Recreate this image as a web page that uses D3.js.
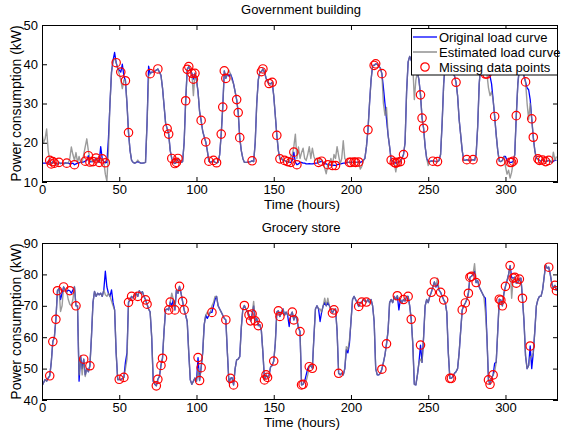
<!DOCTYPE html>
<html>
<head>
<meta charset="utf-8">
<script src="https://cdn.jsdelivr.net/npm/d3@7"></script>
<style>
  body { margin: 0; background: #fff; }
  svg text { font-family: "Liberation Sans", Arial, Helvetica, sans-serif; fill: #000; }
</style>
</head>
<body>
<svg id="fig" width="561" height="434"></svg>
<script>
// Hourly load (kW), hours 0..333
const govOriginal = [
  14.8,14.8,14.8,14.8,14.8,15.5,14.6,15.2,14.8,14.8,
  14.5,15,14.7,14.8,14.6,14.9,14.8,14.8,14.6,14.7,
  14.8,14.4,14.6,14.8,14.9,15,15,15.1,15.3,15.5,
  16.7,15.1,15.2,15.2,15.5,16.1,15.3,15,19,15.9,
  15.2,14.9,15,21,30,38,41,43,40.4,39,
  38.5,38,40,37,35.8,30,22.6,18,15.5,15,
  14.8,15,15.2,15,14.8,14.8,14.9,15,25,39.5,
  37.6,38,38,38.2,38.5,38.8,38,37.2,34,29.5,
  25,23.6,22.2,18,16,15,14.7,15,16,15.5,
  15,15.2,20,30.7,38.7,39.4,38.5,37.7,36.2,37.7,
  36,33,28,25.7,23,21.5,20.2,18,15.3,15,
  15.2,15.5,15,14.9,15,17,22.2,29.1,38.3,36.4,
  37.5,37,37.5,36.5,35,33,31,27.7,21.3,18,
  16,15,15,15,15.1,15.2,15.4,15.2,20,30,
  36,38,38.1,38.8,38,36.5,35.5,35.1,35,35.4,
  32,27,21.9,18,15.9,16,15.5,15.5,15.2,15.2,
  15,15,15.5,17.6,15,14.4,14.6,15,15,14.8,
  14.8,14.6,14.6,14.7,14.6,14.6,14.7,14.8,14.8,15,
  15.1,15.3,15,14.7,14.6,14.4,14.4,14.3,14.2,14.3,
  14.2,14.4,14.5,14.6,14.7,14.8,14.8,14.9,15,15,
  15,15,15.1,15,15,15.1,15,15.2,15.5,16,
  19,23.3,30,36,39.7,39.7,40.1,40,39.5,39,
  37.6,34,30,26,22,19,15.6,15.2,15,14.8,
  15,15.2,15.2,16,17,20,33,40.6,42,41,
  40,40,39,38,36,32.2,26.3,23.7,19,16,
  15.2,15.2,15.4,15.3,15.3,15.2,15.2,15.5,17,25,
  35,40,41,40,40,39,38,37,35.4,32,
  26,22,18,15.5,15.5,15.7,15.5,15.5,15.6,15.7,
  15.5,17,24,35,40,41,40,37.5,37.5,37.5,
  37,35,31,26.7,22,18,15.3,15.2,15.5,16.5,
  16.5,15.5,15.2,15,15,15.3,17,26.9,35,39,
  40,39,37,35.5,34,33.5,31,26.1,21.4,18,
  16,15.9,15.5,15.3,15.6,15.4,15.2,15.3,15.5,15.3,
  15,15.3,15.5,15.5
];
// [hour, kW] where the estimated curve departs from the original one
const govEstimatedEdits = [
  [0,22.3],[1,20],[2,21],[3,23.5],[4,18],[18,16],[19,18.9],[20,17],[21,15.5],[22,17.5],
  [23,15],[24,16.5],[27,17],[28,19],[29,21],[30,18],[31,16],[38,15.5],[41,12],[42,10.2],
  [43,18],[47,41.4],[50,37.5],[51,36],[52,33.8],[53,36],[62,15.6],[69,37],[98,32],[121,38.5],
  [123,36],[161,16.5],[162,17],[163,19],[164,22.2],[165,16],[166,18.9],[167,16],[168,17.5],
  [169,18.6],[170,16],[171,15.5],[172,17],[173,19],[174,16],[175,18.6],[176,16.5],[177,15.5],
  [178,16],[180,16],[181,15.5],[182,14.5],[183,13.5],[184,12.1],[185,14.5],[187,16],[189,17],
  [190,16],[191,19],[192,16.7],[194,16],[195,20.5],[196,16],[197,15.5],[206,13.3],[207,14],
  [221,30],[222,27],[223,29],[229,12.6],[241,31],[242,36],[250,14.2],[289,34],[290,32],
  [291,33],[300,14],[301,12],[302,13],[303,11],[304,12.5],[305,15],[314,30],[315,26],
  [316,30],[331,17.6],[333,16.5]
];
const govMissing = [
  5,6,7,8,11,16,21,28,30,31,33,35,37,39,41,48,51,54,56,70,75,81,82,84,86,87,88,93,94,95,
  97,98,99,103,106,108,111,113,116,117,118,119,126,127,128,136,142,143,147,149,152,154,157,
  159,161,163,165,179,181,185,188,190,199,200,202,203,205,211,215,216,220,226,228,229,230,
  232,234,245,246,247,253,256,268,275,279,287,288,293,297,303,304,305,307,313,317,318,321,
  322,324,326,328
];

const groOriginal = [
  44.5,45.5,46.5,46,47,47.7,52,58.6,60,65.7,
  74.8,75.5,72,74,76,75,74.5,75,74.8,74,
  75,76,70,70,46,54,50,53,48,50,
  49,50.9,60,71,74.6,73,74,73.5,74,73,
  75,81,76,74,73,75.1,71,68.7,55,46.5,
  46.6,46.5,46.8,47.2,52,55,71.1,72,73,72.5,
  73.5,74,73,74.8,74,74.5,73,71.9,70.5,69,
  68,60,46,45,44.5,46.6,47.5,51,53.3,62,
  68.7,69,68.7,71.2,70,72,68.7,75,74,76.2,
  74,71.4,68.7,67,65,55,46.4,45,46,47,
  46,53.5,46.2,50.3,55,64,67,66,67,68,
  67.9,70,72,73,70,69,68,67,66,65.5,
  55,45.5,46.9,47.1,44.8,50,52.8,53,53.8,63,
  69,70.1,69,68,67.1,65.2,67.4,70,65.2,66,
  63.7,64,62,55,46.4,48,47.2,48,50.6,51,
  52.4,58,68,68.4,66.6,68,69,67,68,67,
  63.4,67,68,65.5,67,65.7,63,61.8,44.8,45,
  46,48,50,50.6,51,50.1,60,69,70,69,
  65,68,70,71,70,71,70,69,67.7,68.7,
  69,62,48.5,48,48.5,48,50,56,55,58,
  65,72,73,72,71,69.8,71,71.2,72,71.5,
  71.2,72,71,72,70,65,50,48,48,48.5,
  49.8,52,54.4,57.9,62,71,72,71,73,72,
  73.2,68.7,72,71,72,71.5,73,73,70,65.7,
  58,45,44.8,48,52,57.5,52,60,70,72,
  71,73,74.3,76,77.6,76,77,75,74.3,73,
  71.9,71,68,55,46.9,46.9,47.5,48.5,49,50,
  55,62,68.7,70,70.9,72,74,79.1,79.4,80,
  81,77.4,78,76,75,74,73,72.4,60,46.4,
  45,47,48,51.7,52,62,72.1,71.8,70,74,
  76.2,78,80,82.8,79,78.8,79.1,77.2,77.4,78.5,
  78.8,72.4,65,54,50,51,57.2,50,55,62,
  70,72,73,73,75,79,83,82,82.3,80,
  77,75.6,76.5,74.8
];
const groEstimatedEdits = [
  [12,68.2],[13,70],[17,72],[18,70.5],[19,70],[20,72],[21,76.2],[24,48],[26,48],[28,47.5],
  [41,73.5],[42,73],[45,71.5],[46,70],[54,50],[55,53],[84,74],[101,50],[107,68],[110,70],
  [111,71],[112,73],[137,71.4],[160,67],[171,46],[172,48],[180,69],[183,72.4],[185,72.4],
  [197,57],[198,56],[199,59],[231,72],[245,53],[256,78.8],[280,83.4],[287,68],[293,49],
  [304,72.4],[316,53.8],[317,53.8],[326,83.1]
];
const groMissing = [
  5,7,9,10,14,18,22,27,31,50,53,56,58,62,67,68,74,75,77,78,82,83,86,89,91,92,101,102,103,
  110,119,122,124,131,134,135,136,138,140,144,145,146,150,153,154,162,163,167,168,169,173,
  175,188,189,192,205,207,210,220,223,230,234,237,239,245,252,254,258,260,264,265,272,274,
  276,277,278,281,289,290,292,296,297,298,300,303,305,306,307,309,311,316,328,332,333
];

const xTicks = [0, 50, 100, 150, 200, 250, 300];
const govYTicks = [10, 20, 30, 40, 50];
const groYTicks = [40, 50, 60, 70, 80, 90];
const legendLabels = ["Original load curve", "Estimated load curve", "Missing data points"];

const BLUE = "#0000ff", GRAY = "#7f7f7f", RED = "#ff0000";
const svg = d3.select("#fig");

function applyEdits(base, edits) {
  const s = base.slice();
  edits.forEach(([h, v]) => { s[h] = v; });
  return s;
}

const x = d3.scaleLinear().domain([0, 334]).range([42, 558]);

function drawPanel(opt) {
  const { id, original, edits, missing, yDomain, yTicks, top, bottom, title, titleY, xLabelY } = opt;
  const estimated = applyEdits(original, edits);
  const y = d3.scaleLinear().domain(yDomain).range([bottom, top]);
  const g = svg.append("g");

  g.append("clipPath").attr("id", id).append("rect")
    .attr("x", x.range()[0]).attr("y", top)
    .attr("width", x.range()[1] - x.range()[0]).attr("height", bottom - top);

  const line = d3.line().x((d, i) => x(i)).y(d => y(d));
  const plot = g.append("g").attr("clip-path", `url(#${id})`);

  plot.append("path").datum(original)
    .attr("d", line).attr("fill", "none")
    .attr("stroke", BLUE).attr("stroke-width", 1.3).attr("stroke-linejoin", "round");
  plot.append("path").datum(estimated)
    .attr("d", line).attr("fill", "none")
    .attr("stroke", GRAY).attr("stroke-opacity", 0.78)
    .attr("stroke-width", 1.4).attr("stroke-linejoin", "round");
  plot.selectAll("circle").data(missing).join("circle")
    .attr("cx", h => x(h)).attr("cy", h => y(original[h]))
    .attr("r", 4.2).attr("fill", "none")
    .attr("stroke", RED).attr("stroke-width", 1.2);

  // axes: inward ticks on all four sides
  const ax = (sel) => sel.call(s => s.select(".domain").remove())
    .call(s => s.selectAll("line").attr("stroke", "#000"))
    .call(s => s.selectAll("text").attr("font-size", 13).attr("font-family", null));

  g.append("g").attr("transform", `translate(0,${bottom})`)
    .call(d3.axisBottom(x).tickValues(xTicks).tickSizeInner(-5).tickSizeOuter(0).tickPadding(3)).call(ax);
  g.append("g").attr("transform", `translate(0,${top})`)
    .call(d3.axisTop(x).tickValues(xTicks).tickSizeInner(-5).tickSizeOuter(0).tickFormat("")).call(ax);
  g.append("g").attr("transform", `translate(${x.range()[0]},0)`)
    .call(d3.axisLeft(y).tickValues(yTicks).tickSizeInner(-5).tickSizeOuter(0).tickPadding(4)).call(ax);
  g.append("g").attr("transform", `translate(${x.range()[1]},0)`)
    .call(d3.axisRight(y).tickValues(yTicks).tickSizeInner(-5).tickSizeOuter(0).tickFormat("")).call(ax);

  g.append("rect")
    .attr("x", x.range()[0] + 0.5).attr("y", top + 0.5)
    .attr("width", x.range()[1] - x.range()[0] - 1).attr("height", bottom - top - 1)
    .attr("fill", "none").attr("stroke", "#000").attr("stroke-width", 1);

  const cx = (x.range()[0] + x.range()[1]) / 2;
  g.append("text").attr("x", cx + 1).attr("y", titleY)
    .attr("text-anchor", "middle").attr("font-size", 13).text(title);
  g.append("text").attr("x", cx + 2).attr("y", xLabelY)
    .attr("text-anchor", "middle").attr("font-size", 13.5).text("Time (hours)");
  g.append("text")
    .attr("transform", `translate(21,${(top + bottom) / 2}) rotate(-90)`)
    .attr("text-anchor", "middle").attr("font-size", 14).text("Power consumption (kW)");

  return g;
}

drawPanel({
  id: "clipGov", original: govOriginal, edits: govEstimatedEdits, missing: govMissing,
  yDomain: [10, 50], yTicks: govYTicks, top: 25, bottom: 182,
  title: "Government building", titleY: 14, xLabelY: 208.5
});
drawPanel({
  id: "clipGro", original: groOriginal, edits: groEstimatedEdits, missing: groMissing,
  yDomain: [40, 90], yTicks: groYTicks, top: 243, bottom: 400,
  title: "Grocery store", titleY: 232, xLabelY: 426.5
});

// legend of the upper panel
const lg = svg.append("g").attr("transform", "translate(411,28.5)");
lg.append("rect").attr("x", 0.5).attr("y", 0).attr("width", 146).attr("height", 46.5)
  .attr("fill", "#fff").attr("stroke", "#000").attr("stroke-width", 1);
const rows = lg.selectAll("g.row").data(legendLabels).join("g")
  .attr("class", "row").attr("transform", (d, i) => `translate(0,${8.5 + i * 15})`);
rows.filter((d, i) => i < 2).append("line")
  .attr("x1", 2).attr("x2", 26).attr("y1", 0).attr("y2", 0)
  .attr("stroke", (d, i) => i === 0 ? BLUE : GRAY).attr("stroke-width", 1.3);
rows.filter((d, i) => i === 2).append("circle")
  .attr("cx", 14).attr("cy", 0).attr("r", 4.2)
  .attr("fill", "none").attr("stroke", RED).attr("stroke-width", 1.2);
rows.append("text").attr("x", 28).attr("y", 4.5).attr("font-size", 13).text(d => d);
</script>
</body>
</html>
